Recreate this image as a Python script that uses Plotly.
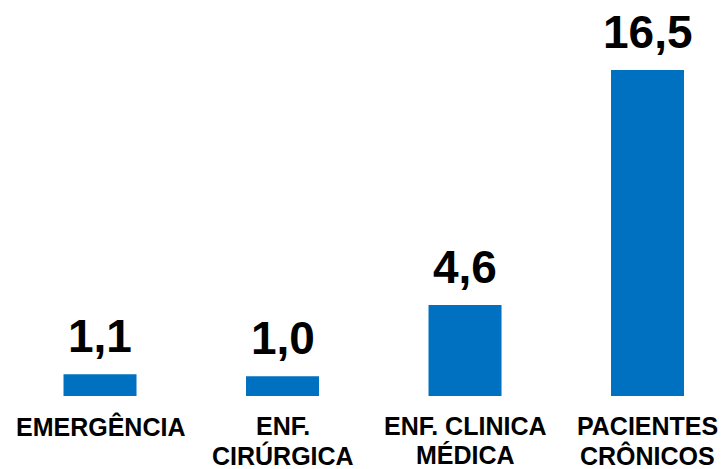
import plotly.graph_objects as go

# Categories and values
categories = ["EMERGÊNCIA", "ENF.<br>CIRÚRGICA", "ENF. CLINICA<br>MÉDICA", "PACIENTES<br>CRÔNICOS"]
values = [1.1, 1.0, 4.6, 16.5]
value_labels = ["1,1", "1,0", "4,6", "16,5"]

positions = list(range(len(categories)))
bar_color = "#0070C0"
font_family = "Arial, 'Liberation Sans', sans-serif"

fig = go.Figure(
    go.Bar(
        x=positions,
        y=values,
        width=0.4,
        marker=dict(color=bar_color, line=dict(width=0)),
        hoverinfo="skip",
    )
)

# Value labels above each bar
for xp, v, lab in zip(positions, values, value_labels):
    fig.add_annotation(
        x=xp, y=v, text=lab, showarrow=False,
        xanchor="center", yanchor="bottom", yshift=10,
        font=dict(family=font_family, size=46, color="black", weight="bold"),
    )

# Category labels under the baseline, one annotation per text line
line_gap = 29
for xp, cat in zip(positions, categories):
    for i, line in enumerate(cat.split("<br>")):
        fig.add_annotation(
            x=xp, y=0, text=line, showarrow=False,
            xanchor="center", yanchor="middle",
            yshift=-30 - i * line_gap,
            font=dict(family=font_family, size=25, color="black", weight="bold"),
        )

fig.update_layout(
    width=726, height=469,
    margin=dict(l=0, r=0, t=0, b=73),
    paper_bgcolor="white", plot_bgcolor="white",
    showlegend=False,
    xaxis=dict(
        range=[-0.548, 3.430],
        showticklabels=False,
        showgrid=False, zeroline=False, showline=False, ticks="",
        fixedrange=True,
    ),
    yaxis=dict(
        range=[0, 20.04], visible=False, fixedrange=True,
    ),
)

fig.write_html("out.html")
